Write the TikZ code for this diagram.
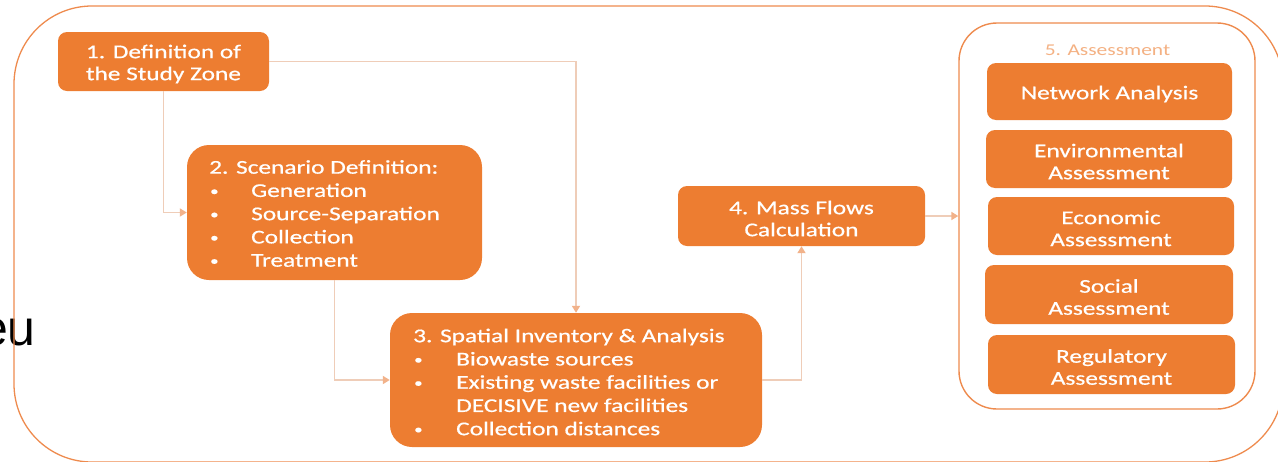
\documentclass[tikz,border=0pt]{standalone}
\usepackage{fontspec}
\setmainfont{Carlito}
\newfontfamily\boxfont[FakeStretch=1.3,FakeBold=0.6]{Carlito}
\newfontfamily\titlefont[FakeStretch=1.3]{Carlito}
\newfontfamily\arialfont{Liberation Sans}
\usetikzlibrary{arrows.meta}
\definecolor{boxorange}{HTML}{ED7D31}
\definecolor{linec}{HTML}{EFCDB8}
\definecolor{arrc}{HTML}{F2B28A}
\definecolor{framec}{HTML}{EE8B4E}
\definecolor{titlec}{HTML}{F4B183}
\newcommand{\smallbul}{\raisebox{1.5pt}{\fontsize{13}{13}\selectfont •}}
\newcommand{\bulA}{\makebox[42pt][l]{\hspace{1pt}\smallbul}}
\newcommand{\bulB}{\makebox[43pt][l]{\hspace{1pt}\smallbul}}
\begin{document}
\begin{tikzpicture}[x=1pt,y=-1pt,
  box/.style={fill=boxorange, draw=none, rounded corners=9pt, inner sep=0pt},
  lbl/.style={text=white, inner sep=0pt, align=center, yshift=-2.5pt,
    font=\boxfont\fontsize{19.5}{22}\selectfont},
  bigbox/.style={fill=boxorange, draw=none, rounded corners=22pt, inner sep=0pt},
  txt/.style={text=white, inner sep=0pt, align=left, font=\boxfont\fontsize{19.5}{23.25}\selectfont},
  conn/.style={draw=linec, line width=1.8pt, -{Triangle[length=7pt,width=8pt,color=arrc]}},
  aframe/.style={draw=framec, line width=1.4pt, rounded corners=38pt, fill=white, inner sep=0pt}
]
\useasboundingbox (0,0) rectangle (1278,461);

% stray text at left
\node[anchor=base east, inner sep=0pt, font=\arialfont\fontsize{50}{60}\selectfont] (eu) at (36,345) {eu};

% outer frame
\draw[framec, line width=1.3pt, rounded corners=78pt] (14,6) rectangle (1283,462);

% assessment frame
\node[aframe, minimum width=296pt, minimum height=386pt] (a5) at (1107,216) {};
\node[inner sep=0pt, text=titlec, font=\titlefont\fontsize{16.5}{20}\selectfont] (a5t) at (1107.5,50) {5. Assessment};

% boxes
\node[box, minimum width=211pt, minimum height=59pt] (b1) at (163.5,61.5) {};
\node[lbl] (b1t) at (b1) {1. Definition of\\the Study Zone};
\node[bigbox, minimum width=295pt, minimum height=135pt] (b2) at (334.5,212.5) {};
\node[txt, anchor=west] (t2) at (209,213.5) {2. Scenario Definition:\\\bulA Generation\\\bulA Source-Separation\\\bulA Collection\\\bulA Treatment};
\node[bigbox, minimum width=372pt, minimum height=134pt] (b3) at (576,380) {};
\node[txt, anchor=west] (t3) at (413,382) {3. Spatial Inventory \& Analysis\\\bulB Biowaste sources\\\bulB Existing waste facilities or\\\hspace*{43pt}DECISIVE new facilities\\\bulB Collection distances};
\node[box, minimum width=247pt, minimum height=60pt] (b4) at (801.5,216) {};
\node[lbl] (b4t) at (b4) {4. Mass Flows\\Calculation};

\node[box, minimum width=245pt, minimum height=57pt] (na) at (1109.5,91.5) {};
\node[lbl] (nat) at (na) {Network Analysis};
\node[box, minimum width=246pt, minimum height=58pt] (env) at (1109,159) {};
\node[lbl] (envt) at (env) {Environmental\\Assessment};
\node[box, minimum width=246pt, minimum height=58pt] (eco) at (1111,226) {};
\node[lbl] (ecot) at (eco) {Economic\\Assessment};
\node[box, minimum width=248pt, minimum height=59pt] (soc) at (1109,294.5) {};
\node[lbl] (soct) at (soc) {Social\\Assessment};
\node[box, minimum width=247pt, minimum height=59pt] (reg) at (1111.5,364.5) {};
\node[lbl] (regt) at (reg) {Regulatory\\Assessment};

% connectors
\draw[conn] (b1.east) -| (b3.north);
\draw[conn] (b1.south) |- (b2.west);
\draw[conn] (b2.south) |- (b3.west);
\draw[conn] (b3.east) -| (b4.south);
\draw[conn] (b4.east) -- (a5.west);
\end{tikzpicture}
\end{document}
